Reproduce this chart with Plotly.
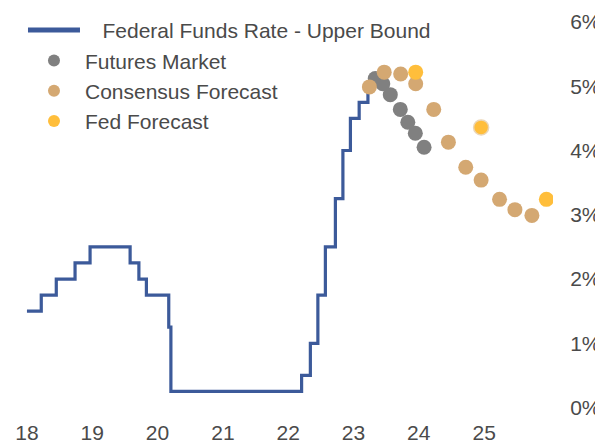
import plotly.graph_objects as go

# Federal funds rate, upper bound (change dates, %)
ffr_dates = ["2018-01-01", "2018-03-22", "2018-06-14", "2018-09-27", "2018-12-20",
             "2019-08-01", "2019-09-19", "2019-10-31", "2020-03-04", "2020-03-16",
             "2022-03-17", "2022-05-05", "2022-06-16", "2022-07-28", "2022-09-22",
             "2022-11-03", "2022-12-15", "2023-02-02", "2023-03-23"]
ffr_rates = [1.50, 1.75, 2.00, 2.25, 2.50,
             2.25, 2.00, 1.75, 1.25, 0.25,
             0.50, 1.00, 1.75, 2.50, 3.25,
             4.00, 4.50, 4.75, 5.00]

# Futures market implied path (at FOMC meetings)
fut_dates = ["2023-05-03", "2023-06-14", "2023-07-26", "2023-09-20",
             "2023-11-01", "2023-12-13", "2024-01-31"]
fut_rates = [5.12, 5.04, 4.87, 4.64, 4.44, 4.27, 4.05]

# Consensus forecast (quarterly)
cons_dates = ["2023-03-31", "2023-06-22", "2023-09-22", "2023-12-15",
              "2024-03-25", "2024-06-15", "2024-09-20", "2024-12-15",
              "2025-03-28", "2025-06-22", "2025-09-25"]
cons_rates = [4.99, 5.22, 5.19, 5.04, 4.64, 4.13, 3.74, 3.54, 3.24, 3.08, 2.99]

# Fed forecast (year-end)
fed_dates = ["2023-12-15", "2024-12-15", "2025-12-15"]
fed_rates = [5.22, 4.36, 3.24]

x_tick_vals = ["2018-01-01", "2019-01-01", "2020-01-01", "2021-01-01",
               "2022-01-01", "2023-01-01", "2024-01-01", "2025-01-01"]
x_tick_text = ["18", "19", "20", "21", "22", "23", "24", "25"]
y_ticks = [0, 1, 2, 3, 4, 5, 6]
y_labels = ["0%", "1%", "2%", "3%", "4%", "5%", "6%"]

FONT = "Liberation Sans, Arial, Helvetica, sans-serif"
TXT = "#4a4a4a"
FS = 21
NB = "\u00a0"

fig = go.Figure()
fig.add_trace(go.Scatter(
    x=ffr_dates, y=ffr_rates, mode="lines", line_shape="hv",
    line=dict(color="#3C5A9A", width=3.2),
    name=NB * 3 + "Federal Funds Rate - Upper Bound"))
fig.add_trace(go.Scatter(
    x=fut_dates, y=fut_rates, mode="markers",
    marker=dict(color="#808080", size=15, line=dict(width=0)),
    name="Futures Market"))
fig.add_trace(go.Scatter(
    x=cons_dates, y=cons_rates, mode="markers",
    marker=dict(color="#D4A872", size=15, line=dict(width=0)),
    name="Consensus Forecast"))
fig.add_trace(go.Scatter(
    x=fed_dates, y=fed_rates, mode="markers",
    marker=dict(color="#FFBE3B", size=15,
                line=dict(width=1.5, color=["rgba(0,0,0,0)", "#EBD6B6", "rgba(0,0,0,0)"])),
    name="Fed Forecast"))

fig.update_layout(
    width=595, height=435,
    margin=dict(l=0, r=50, t=4, b=25, autoexpand=False),
    paper_bgcolor="white", plot_bgcolor="white",
    font=dict(family=FONT, size=FS, color=TXT),
    showlegend=True,
    legend=dict(x=0.0275, y=1.005, xanchor="left", yanchor="top",
                bgcolor="rgba(0,0,0,0)", font=dict(size=FS, color=TXT),
                itemsizing="constant", itemwidth=52, tracegroupgap=0),
    xaxis=dict(type="date", range=["2017-09-17", "2026-01-21"],
               tickvals=x_tick_vals, ticktext=x_tick_text, automargin=False,
               showgrid=False, zeroline=False, showline=False, ticks="",
               tickfont=dict(size=FS, color=TXT)),
    yaxis=dict(side="right", range=[-0.163, 6.156], automargin=False,
               tickvals=y_ticks, ticktext=y_labels,
               showgrid=False, zeroline=False, showline=False,
               ticks="outside", ticklen=12, tickcolor="rgba(0,0,0,0)",
               tickfont=dict(size=FS, color=TXT)),
)

fig.write_html("out.html")
